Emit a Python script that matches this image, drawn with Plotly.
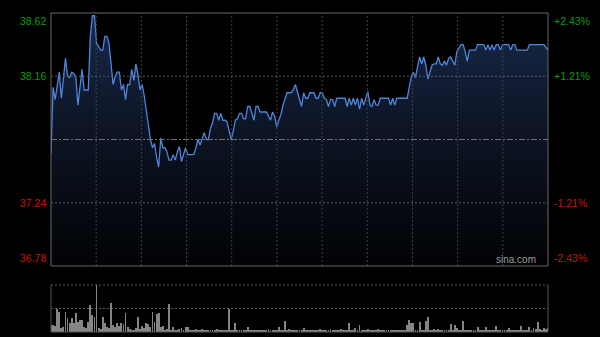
import plotly.graph_objects as go

# ---------------- data ----------------
prev_close = 37.70
price_lo, price_hi = 36.78, 38.62

minutes = [
    0, 1, 2, 3, 4, 5, 6, 7, 8, 9, 10, 11, 12, 13, 14, 15, 16, 18, 19, 20,
    21, 22, 24, 25, 26, 27, 28, 29, 30, 31, 32, 33, 34, 35, 36, 37, 38, 39, 40, 41,
    42, 43, 44, 45, 46, 47, 48, 49, 50, 51, 52, 53, 54, 55, 56, 57, 58, 59, 60, 61,
    62, 63, 64, 65, 66, 69, 70, 71, 72, 73, 74, 75, 76, 77, 78, 79, 80, 81, 82, 83,
    84, 85, 86, 87, 88, 89, 90, 91, 92, 93, 94, 95, 96, 97, 98, 99, 100, 101, 104, 106,
    107, 108, 109, 110, 111, 112, 113, 114, 116, 117, 118, 119, 120, 121, 122, 123, 124, 125, 127, 128,
    129, 130, 131, 132, 133, 134, 135, 136, 137, 138, 139, 141, 142, 143, 144, 145, 146, 147, 148, 149,
    150, 151, 152, 153, 154, 155, 156, 157, 158, 159, 163, 164, 165, 166, 167, 172, 173, 174, 175, 176,
    177, 178, 179, 180, 181, 182, 183, 184, 185, 186, 187, 188, 189, 190, 191, 192, 193, 194, 195, 196,
    197, 198, 199, 200, 201, 202, 205, 206, 209, 210, 211, 212, 213, 214, 215, 216, 217, 218, 221, 222,
    223, 224, 225, 230, 231, 238, 240,
]
prices = [
    37.60, 38.08, 37.99, 38.08, 38.19, 38.00, 38.13, 38.29, 38.16, 38.15, 38.19, 38.18, 38.15, 37.95, 38.08, 38.21, 38.06, 38.06, 38.45, 38.60,
    38.60, 38.40, 38.35, 38.35, 38.45, 38.45, 38.40, 38.23, 38.10, 38.16, 38.19, 38.19, 38.06, 38.10, 37.99, 38.10, 38.10, 38.21, 38.13, 38.25,
    38.17, 38.06, 38.10, 38.02, 37.91, 37.79, 37.70, 37.64, 37.67, 37.57, 37.50, 37.71, 37.64, 37.64, 37.61, 37.55, 37.55, 37.59, 37.55, 37.61,
    37.65, 37.54, 37.59, 37.64, 37.59, 37.59, 37.64, 37.70, 37.66, 37.70, 37.75, 37.70, 37.70, 37.78, 37.82, 37.89, 37.89, 37.84, 37.89, 37.84,
    37.84, 37.83, 37.76, 37.70, 37.76, 37.84, 37.85, 37.89, 37.89, 37.85, 37.85, 37.94, 37.94, 37.88, 37.84, 37.94, 37.94, 37.90, 37.90, 37.84,
    37.90, 37.87, 37.79, 37.84, 37.88, 37.95, 37.99, 38.04, 38.04, 38.06, 38.10, 38.04, 38.00, 37.94, 38.04, 38.00, 38.00, 38.04, 38.04, 38.00,
    38.00, 38.04, 38.04, 38.00, 37.99, 37.94, 37.99, 37.99, 37.94, 38.00, 38.00, 38.00, 38.00, 37.94, 38.00, 37.95, 38.00, 37.95, 38.00, 37.92,
    38.00, 37.95, 38.00, 38.05, 37.95, 37.94, 37.99, 37.95, 37.95, 38.00, 38.00, 37.95, 38.00, 37.95, 38.00, 38.00, 38.08, 38.16, 38.19, 38.15,
    38.23, 38.30, 38.25, 38.30, 38.24, 38.14, 38.19, 38.24, 38.25, 38.25, 38.30, 38.25, 38.24, 38.27, 38.24, 38.29, 38.30, 38.27, 38.24, 38.34,
    38.37, 38.39, 38.39, 38.34, 38.27, 38.35, 38.35, 38.39, 38.39, 38.35, 38.39, 38.35, 38.39, 38.35, 38.39, 38.39, 38.35, 38.39, 38.39, 38.35,
    38.39, 38.39, 38.35, 38.35, 38.39, 38.39, 38.35,
]

vol_minutes = list(range(241))
volumes = [
    280, 280, 240, 910, 800, 150, 190, 800, 550, 350,
    550, 350, 750, 410, 480, 480, 210, 150, 410, 1080,
    680, 610, 1880, 150, 110, 610, 350, 210, 150, 1150,
    280, 190, 370, 240, 350, 320, 750, 190, 110, 80,
    50, 150, 610, 130, 240, 150, 350, 320, 210, 800,
    410, 720, 750, 190, 240, 80, 130, 1120, 40, 190,
    80, 50, 110, 150, 80, 190, 210, 50, 40, 50,
    110, 50, 80, 110, 50, 80, 50, 40, 80, 50,
    110, 80, 40, 50, 80, 50, 920, 40, 50, 350,
    50, 80, 40, 80, 50, 190, 80, 50, 40, 50,
    80, 40, 50, 80, 50, 110, 50, 50, 80, 40,
    190, 80, 50, 440, 50, 110, 80, 50, 80, 50,
    80, 50, 150, 50, 80, 40, 50, 80, 50, 40,
    110, 50, 40, 80, 50, 110, 50, 40, 80, 50,
    110, 50, 80, 40, 350, 50, 80, 150, 50, 280,
    50, 80, 40, 110, 50, 80, 50, 40, 110, 50,
    80, 40, 50, 80, 50, 40, 80, 50, 80, 40,
    80, 50, 280, 480, 350, 350, 80, 50, 410, 80,
    50, 450, 590, 80, 50, 110, 50, 110, 50, 80,
    40, 80, 50, 320, 50, 280, 150, 50, 80, 450,
    50, 80, 40, 50, 80, 50, 190, 50, 80, 40,
    190, 50, 80, 50, 80, 250, 50, 80, 50, 40,
    80, 150, 50, 80, 50, 80, 50, 250, 50, 80,
    50, 190, 80, 150, 110, 410, 110, 80, 150, 110,
    150,
]

price_ticks = [38.62, 38.16, 37.24, 36.78]
pct_labels = ["+2.43%", "+1.21%", "-1.21%", "-2.43%"]
grid_prices = [38.16, 37.24]
n_vsections = 11

# ---------------- figure ----------------
GREEN = "#139a13"
RED = "#c8170a"
FONT = "Liberation Sans, Arial, sans-serif"

fig = go.Figure()

fig.add_trace(go.Scatter(
    x=minutes, y=prices, mode="lines",
    line=dict(color="#4f85dc", width=1.3),
    fill="tozeroy",
    fillgradient=dict(
        type="vertical", start=price_lo, stop=price_hi,
        colorscale=[[0, "rgba(40,66,118,0.04)"], [0.55, "rgba(40,66,118,0.32)"], [1, "rgba(40,66,118,0.62)"]],
    ),
    hoverinfo="skip", xaxis="x", yaxis="y",
))

fig.add_trace(go.Bar(
    x=vol_minutes, y=volumes, width=0.42,
    marker=dict(color="#858585", line=dict(width=0)),
    hoverinfo="skip", xaxis="x2", yaxis="y2",
))

shapes = []
# vertical grid in price panel
for k in range(1, n_vsections):
    shapes.append(dict(type="line", xref="x domain", yref="y domain",
                       x0=k / n_vsections, x1=k / n_vsections, y0=0, y1=1,
                       line=dict(color="#404040", width=1, dash="2px,2px"), layer="above"))
# horizontal grid
for gp in grid_prices:
    shapes.append(dict(type="line", xref="x domain", yref="y", x0=0, x1=1, y0=gp, y1=gp,
                       line=dict(color="#5a5a5a", width=1, dash="2px,2px"), layer="above"))
shapes.append(dict(type="line", xref="x domain", yref="y", x0=0, x1=1, y0=prev_close, y1=prev_close,
                   line=dict(color="#707070", width=1, dash="6px,2px,2px,2px"), layer="above"))
# price border
shapes.append(dict(type="rect", xref="x domain", yref="y domain", x0=0, x1=1, y0=0, y1=1,
                   line=dict(color="#666666", width=1), layer="above"))
# volume panel frame
shapes.append(dict(type="line", xref="x2 domain", yref="y2 domain", x0=0, x1=1, y0=1, y1=1,
                   line=dict(color="#5a5a5a", width=1, dash="2px,2px"), layer="below"))
shapes.append(dict(type="line", xref="x2 domain", yref="y2 domain", x0=0, x1=1, y0=0.5, y1=0.5,
                   line=dict(color="#5a5a5a", width=1, dash="2px,2px"), layer="below"))
shapes.append(dict(type="line", xref="x2 domain", yref="y2 domain", x0=0, x1=1, y0=0, y1=0,
                   line=dict(color="#555555", width=1), layer="above"))
shapes.append(dict(type="line", xref="x2 domain", yref="y2 domain", x0=0, x1=0, y0=0, y1=1,
                   line=dict(color="#555555", width=1), layer="above"))
shapes.append(dict(type="line", xref="x2 domain", yref="y2 domain", x0=1, x1=1, y0=0, y1=1,
                   line=dict(color="#555555", width=1), layer="above"))

annotations = []
n = len(price_ticks)
for i, (p, pl) in enumerate(zip(price_ticks, pct_labels)):
    col = GREEN if p > prev_close else RED
    ya = "top" if i == 0 else ("bottom" if i == n - 1 else "middle")
    annotations.append(dict(xref="paper", yref="y", x=0, y=p, xanchor="right", yanchor=ya,
                            xshift=-3, text=f"{p:.2f}", showarrow=False,
                            font=dict(family=FONT, size=10.5, color=col)))
    annotations.append(dict(xref="paper", yref="y", x=1, y=p, xanchor="left", yanchor=ya,
                            xshift=4, text=pl, showarrow=False,
                            font=dict(family=FONT, size=10.5, color=col)))
annotations.append(dict(xref="paper", yref="y domain", x=1, y=0, xanchor="right", yanchor="bottom",
                        xshift=-10, yshift=-1, text="sina.com", showarrow=False,
                        font=dict(family=FONT, size=10, color="#9a9a9a")))

fig.update_layout(
    width=600, height=337,
    margin=dict(l=51, r=52, t=13, b=5),
    paper_bgcolor="#000000", plot_bgcolor="#000000",
    showlegend=False,
    xaxis=dict(domain=[0, 1], range=[0, 240], anchor="y", showgrid=False, zeroline=False,
               showticklabels=False, ticks="", showline=False, fixedrange=True),
    yaxis=dict(domain=[0.2069, 1], range=[price_lo, price_hi], showgrid=False, zeroline=False,
               showticklabels=False, ticks="", showline=False, fixedrange=True),
    xaxis2=dict(domain=[0, 1], range=[0, 240], anchor="y2", showgrid=False, zeroline=False,
                showticklabels=False, ticks="", showline=False, fixedrange=True),
    yaxis2=dict(domain=[0, 0.1473], range=[0, max(volumes)], anchor="x2", showgrid=False,
                zeroline=False, showticklabels=False, ticks="", showline=False, fixedrange=True),
    bargap=0,
    shapes=shapes,
    annotations=annotations,
)

fig.write_html("out.html", config={"displayModeBar": False})
